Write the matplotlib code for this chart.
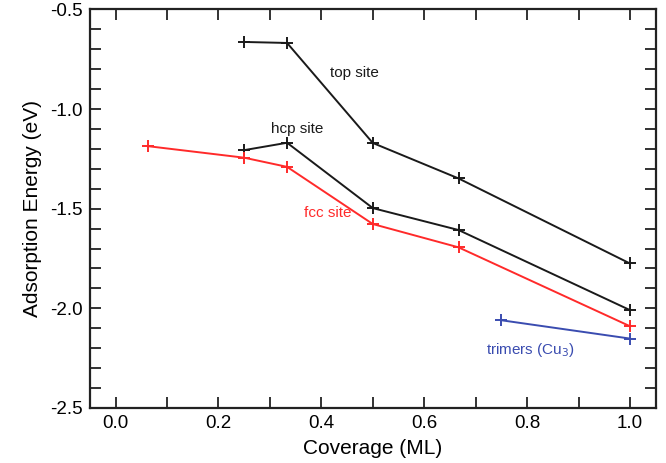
import matplotlib
matplotlib.use("Agg")
import matplotlib.pyplot as plt
from matplotlib.ticker import MultipleLocator

plt.rcParams['font.family'] = ['Liberation Sans', 'DejaVu Sans']

# coverage (ML) and adsorption energies (eV)
top_x = [0.25, 1/3, 0.5, 2/3, 1.0]
top_y = [-0.663, -0.668, -1.17, -1.348, -1.775]

hcp_x = [0.25, 1/3, 0.5, 2/3, 1.0]
hcp_y = [-1.206, -1.169, -1.497, -1.607, -2.009]

fcc_x = [0.0625, 0.25, 1/3, 0.5, 2/3, 1.0]
fcc_y = [-1.186, -1.244, -1.29, -1.577, -1.694, -2.09]

tri_x = [0.75, 1.0]
tri_y = [-2.06, -2.152]

fig = plt.figure(figsize=(6.66, 4.63), dpi=100)
ax = fig.add_axes([0.135, 0.119, 0.8495, 0.8605])

mk = dict(marker='+', markersize=8, markeredgewidth=1.4, linewidth=1.4)
ax.plot(top_x, top_y, color='#1a1a1a', **mk)
ax.plot(hcp_x, hcp_y, color='#1a1a1a', **mk)
ax.plot(fcc_x, fcc_y, color='#ff2a2a', **mk)
ax.plot(tri_x, tri_y, color='#3a4cb0', **mk)

ax.text(0.464, -0.82, "top site", fontsize=11, ha='center', va='center', color='#1a1a1a')
ax.text(0.353, -1.10, "hcp site", fontsize=11, ha='center', va='center', color='#1a1a1a')
ax.text(0.412, -1.522, "fcc site", fontsize=11, ha='center', va='center', color='#ff2a2a')
ax.text(0.806, -2.21, "trimers (Cu$_3$)", fontsize=11, ha='center', va='center', color='#3a4cb0')

ax.set_xlim(-0.05, 1.05)
ax.set_ylim(-2.5, -0.5)
ax.xaxis.set_major_locator(MultipleLocator(0.2))
ax.xaxis.set_minor_locator(MultipleLocator(0.1))
ax.yaxis.set_major_locator(MultipleLocator(0.5))
ax.yaxis.set_minor_locator(MultipleLocator(0.1))
ax.xaxis.set_major_formatter(plt.FuncFormatter(lambda v, p: f"{v:.1f}"))
ax.yaxis.set_major_formatter(plt.FuncFormatter(lambda v, p: f"{v:.1f}"))
ax.tick_params(which='both', direction='in', length=8, width=1.3, top=True, right=True,
               labelsize=13.5, color='#222222')
ax.tick_params(which='major', pad=5)
for s in ax.spines.values():
    s.set_linewidth(1.6)
    s.set_color('#222222')

ax.set_xlabel("Coverage (ML)", fontsize=15, labelpad=5)
ax.set_ylabel("Adsorption Energy (eV)", fontsize=15, labelpad=6)

fig.savefig("out.png", dpi=100)
